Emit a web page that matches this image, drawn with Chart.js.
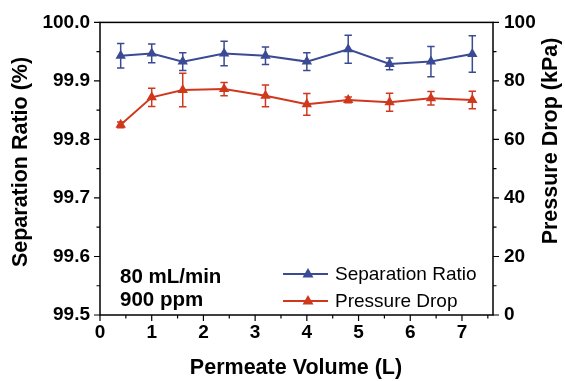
<!DOCTYPE html>
<html lang="en">
<head>
  <meta charset="UTF-8">
  <title>Separation Ratio and Pressure Drop</title>
  <script src="https://cdn.jsdelivr.net/npm/chart.js"></script>
  <style>
    html, body { margin: 0; padding: 0; background: #fff; }
    #wrap { width: 565px; height: 381px; }
  </style>
</head>
<body>
  <div id="wrap"><canvas id="sepChart" width="565" height="381"></canvas></div>

  <script>
    // data
    const volume = [0.4, 1.0, 1.6, 2.4, 3.2, 4.0, 4.8, 5.6, 6.4, 7.2];
    const sepRatio = [99.943, 99.947, 99.933, 99.947, 99.943, 99.933, 99.954, 99.929, 99.933, 99.946];
    const sepErr = [0.021, 0.016, 0.015, 0.021, 0.015, 0.015, 0.024, 0.010, 0.026, 0.031];
    const pressure = [65.0, 74.4, 76.9, 77.2, 74.9, 72.0, 73.5, 72.7, 74.1, 73.5];
    const pressureErr = [1.0, 3.1, 5.7, 2.3, 3.7, 3.7, 1.0, 3.1, 2.3, 3.0];

    const xTicks = [0, 1, 2, 3, 4, 5, 6, 7];
    const sepTicks = [99.5, 99.6, 99.7, 99.8, 99.9, 100.0];
    const pressureTicks = [0, 20, 40, 60, 80, 100];

    const BLUE = '#3b4a94';
    const RED = '#d0381e';
    const FONT = "'Liberation Sans', Arial, sans-serif";

    // error bars, frame, minor ticks, titles, legend and note
    const extras = {
      id: 'extras',
      afterDatasetsDraw(chart) {
        const ctx = chart.ctx;
        const x = chart.scales.x;
        const sets = [
          { y: chart.scales.y, vals: sepRatio, errs: sepErr, color: BLUE },
          { y: chart.scales.y2, vals: pressure, errs: pressureErr, color: RED }
        ];
        ctx.save();
        ctx.lineWidth = 1.5;
        sets.forEach(s => {
          ctx.strokeStyle = s.color;
          s.vals.forEach((v, i) => {
            const px = x.getPixelForValue(volume[i]);
            const top = s.y.getPixelForValue(v + s.errs[i]);
            const bot = s.y.getPixelForValue(v - s.errs[i]);
            ctx.beginPath();
            ctx.moveTo(px, top); ctx.lineTo(px, bot);
            ctx.moveTo(px - 3.7, top); ctx.lineTo(px + 3.7, top);
            ctx.moveTo(px - 3.7, bot); ctx.lineTo(px + 3.7, bot);
            ctx.stroke();
          });
        });
        ctx.restore();
      },
      afterDraw(chart) {
        const ctx = chart.ctx;
        const a = chart.chartArea;
        const x = chart.scales.x, y = chart.scales.y, y2 = chart.scales.y2;
        ctx.save();
        ctx.strokeStyle = '#000';
        ctx.lineWidth = 1.5;
        ctx.strokeRect(a.left, a.top, a.right - a.left, a.bottom - a.top);

        ctx.lineWidth = 1.2;
        ctx.beginPath();
        for (let i = 0; i <= 15; i++) {
          const px = x.getPixelForValue(i * 0.5);
          const len = i % 2 === 0 ? 6 : 3.5;
          ctx.moveTo(px, a.bottom); ctx.lineTo(px, a.bottom + len);
        }
        for (let i = 0; i <= 10; i++) {
          const py = y.getPixelForValue(99.5 + i * 0.05);
          const len = i % 2 === 0 ? 6 : 3.5;
          ctx.moveTo(a.left, py); ctx.lineTo(a.left - len, py);
        }
        for (let i = 0; i <= 10; i++) {
          const py = y2.getPixelForValue(i * 10);
          const len = i % 2 === 0 ? 6 : 3.5;
          ctx.moveTo(a.right, py); ctx.lineTo(a.right + len, py);
        }
        ctx.stroke();

        // axis titles
        ctx.fillStyle = '#000';
        ctx.font = 'bold 21.5px ' + FONT;
        ctx.textAlign = 'center';
        ctx.textBaseline = 'middle';
        ctx.fillText('Permeate Volume (L)', 296, 368);
        ctx.save();
        ctx.translate(21, 162);
        ctx.rotate(-Math.PI / 2);
        ctx.fillText('Separation Ratio (%)', 0, 0);
        ctx.restore();
        ctx.save();
        ctx.translate(551, 141);
        ctx.rotate(-Math.PI / 2);
        ctx.fillText('Pressure Drop (kPa)', 0, 0);
        ctx.restore();

        // note text
        ctx.font = 'bold 20.5px ' + FONT;
        ctx.textAlign = 'left';
        ctx.fillText('80 mL/min', 120, 277);
        ctx.fillText('900 ppm', 120, 300);

        // legend
        const rows = [
          { label: 'Separation Ratio', color: BLUE, y: 274 },
          { label: 'Pressure Drop', color: RED, y: 301 }
        ];
        rows.forEach(r => {
          ctx.strokeStyle = r.color;
          ctx.lineWidth = 2;
          ctx.beginPath();
          ctx.moveTo(283, r.y); ctx.lineTo(328, r.y);
          ctx.stroke();
          ctx.fillStyle = r.color;
          ctx.beginPath();
          ctx.moveTo(308, r.y - 6);
          ctx.lineTo(313.5, r.y + 3.5);
          ctx.lineTo(302.5, r.y + 3.5);
          ctx.closePath();
          ctx.fill();
          ctx.fillStyle = '#000';
          ctx.font = '19px ' + FONT;
          ctx.fillText(r.label, 335, r.y + 1);
        });
        ctx.restore();
      }
    };

    const tickFont = { family: FONT, size: 19, weight: 'bold' };

    new Chart(document.getElementById('sepChart'), {
      type: 'scatter',
      data: {
        datasets: [
          {
            label: 'Separation Ratio',
            data: volume.map((v, i) => ({ x: v, y: sepRatio[i] })),
            yAxisID: 'y',
            showLine: true,
            borderColor: BLUE,
            backgroundColor: BLUE,
            borderWidth: 2,
            pointStyle: 'triangle',
            pointRadius: 6,
            pointBorderWidth: 0
          },
          {
            label: 'Pressure Drop',
            data: volume.map((v, i) => ({ x: v, y: pressure[i] })),
            yAxisID: 'y2',
            showLine: true,
            borderColor: RED,
            backgroundColor: RED,
            borderWidth: 2,
            pointStyle: 'triangle',
            pointRadius: 6,
            pointBorderWidth: 0
          }
        ]
      },
      options: {
        responsive: false,
        animation: false,
        layout: { padding: { top: 22, left: 0, right: 0, bottom: 0 } },
        plugins: {
          legend: { display: false },
          tooltip: { enabled: false }
        },
        scales: {
          x: {
            type: 'linear',
            min: 0,
            max: 7.6,
            afterBuildTicks: s => { s.ticks = xTicks.map(v => ({ value: v })); },
            afterFit: s => { s.height = 66; },
            grid: { display: false, drawTicks: false },
            border: { display: false },
            ticks: { color: '#000', font: tickFont, padding: 6, maxRotation: 0 }
          },
          y: {
            position: 'left',
            min: 99.5,
            max: 100.0,
            afterBuildTicks: s => { s.ticks = sepTicks.map(v => ({ value: v })); },
            afterFit: s => { s.width = 100; },
            grid: { display: false, drawTicks: false },
            border: { display: false },
            ticks: { color: '#000', font: tickFont, padding: 10, callback: v => v.toFixed(1) }
          },
          y2: {
            position: 'right',
            min: 0,
            max: 100,
            afterBuildTicks: s => { s.ticks = pressureTicks.map(v => ({ value: v })); },
            afterFit: s => { s.width = 72; },
            grid: { display: false, drawTicks: false },
            border: { display: false },
            ticks: { color: '#000', font: tickFont, padding: 11 }
          }
        }
      },
      plugins: [extras]
    });
  </script>
</body>
</html>
